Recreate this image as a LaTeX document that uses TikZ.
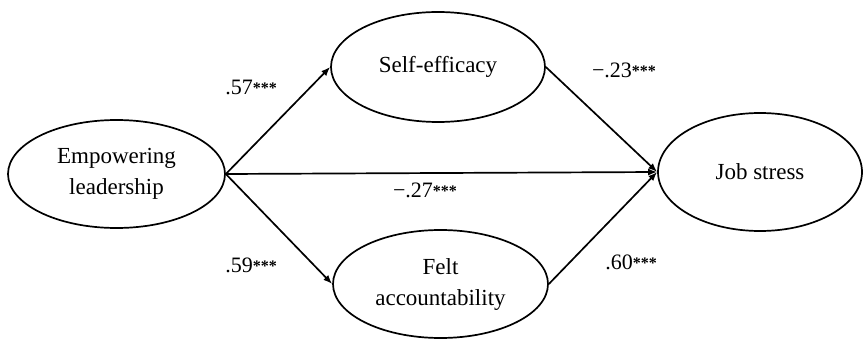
\documentclass[tikz,border=0pt]{standalone}
\usepackage{fontspec}
\setmainfont{Liberation Serif}
\usetikzlibrary{shapes.geometric,arrows.meta}
\newcommand{\stars}{{\fontsize{16}{16}\selectfont\bfseries\raisebox{1pt}{***}}}
\begin{document}
\begin{tikzpicture}[x=1pt,y=-1pt,
  var/.style={draw,ellipse,line width=1.7pt,inner sep=0pt,align=center,
    font=\fontsize{23}{31}\selectfont},
  coef/.style={font=\fontsize{22}{22}\selectfont,inner sep=0pt},
  path/.style={line width=1.7pt,-{Latex[length=9pt,width=7pt]}}]
\useasboundingbox (0,0) rectangle (864,342);
\node[var,minimum width=217pt,minimum height=108pt] (E) at (116.5,174) {Empowering\\leadership};
\node[var,minimum width=214pt,minimum height=110pt] (S) at (438,67) {Self-efficacy};
\node[var,minimum width=215pt,minimum height=108pt] (F) at (440.5,284) {Felt\\accountability};
\node[var,minimum width=204pt,minimum height=118pt] (J) at (760,172) {Job stress};
\draw[path] (E.east) -- (S.west);
\draw[path] (E.east) -- (F.west);
\draw[path] (E.east) -- (J.west);
\draw[path] (S.east) -- (J.west);
\draw[path] (F.east) -- (J.west);
\node[coef] (c1) at (251,87) {.57\stars};
\node[coef] (c2) at (251,265) {.59\stars};
\node[coef] (c3) at (624,70) {−.23\stars};
\node[coef] (c4) at (631,262) {.60\stars};
\node[coef] (c5) at (425,190) {−.27\stars};
\end{tikzpicture}
\end{document}
